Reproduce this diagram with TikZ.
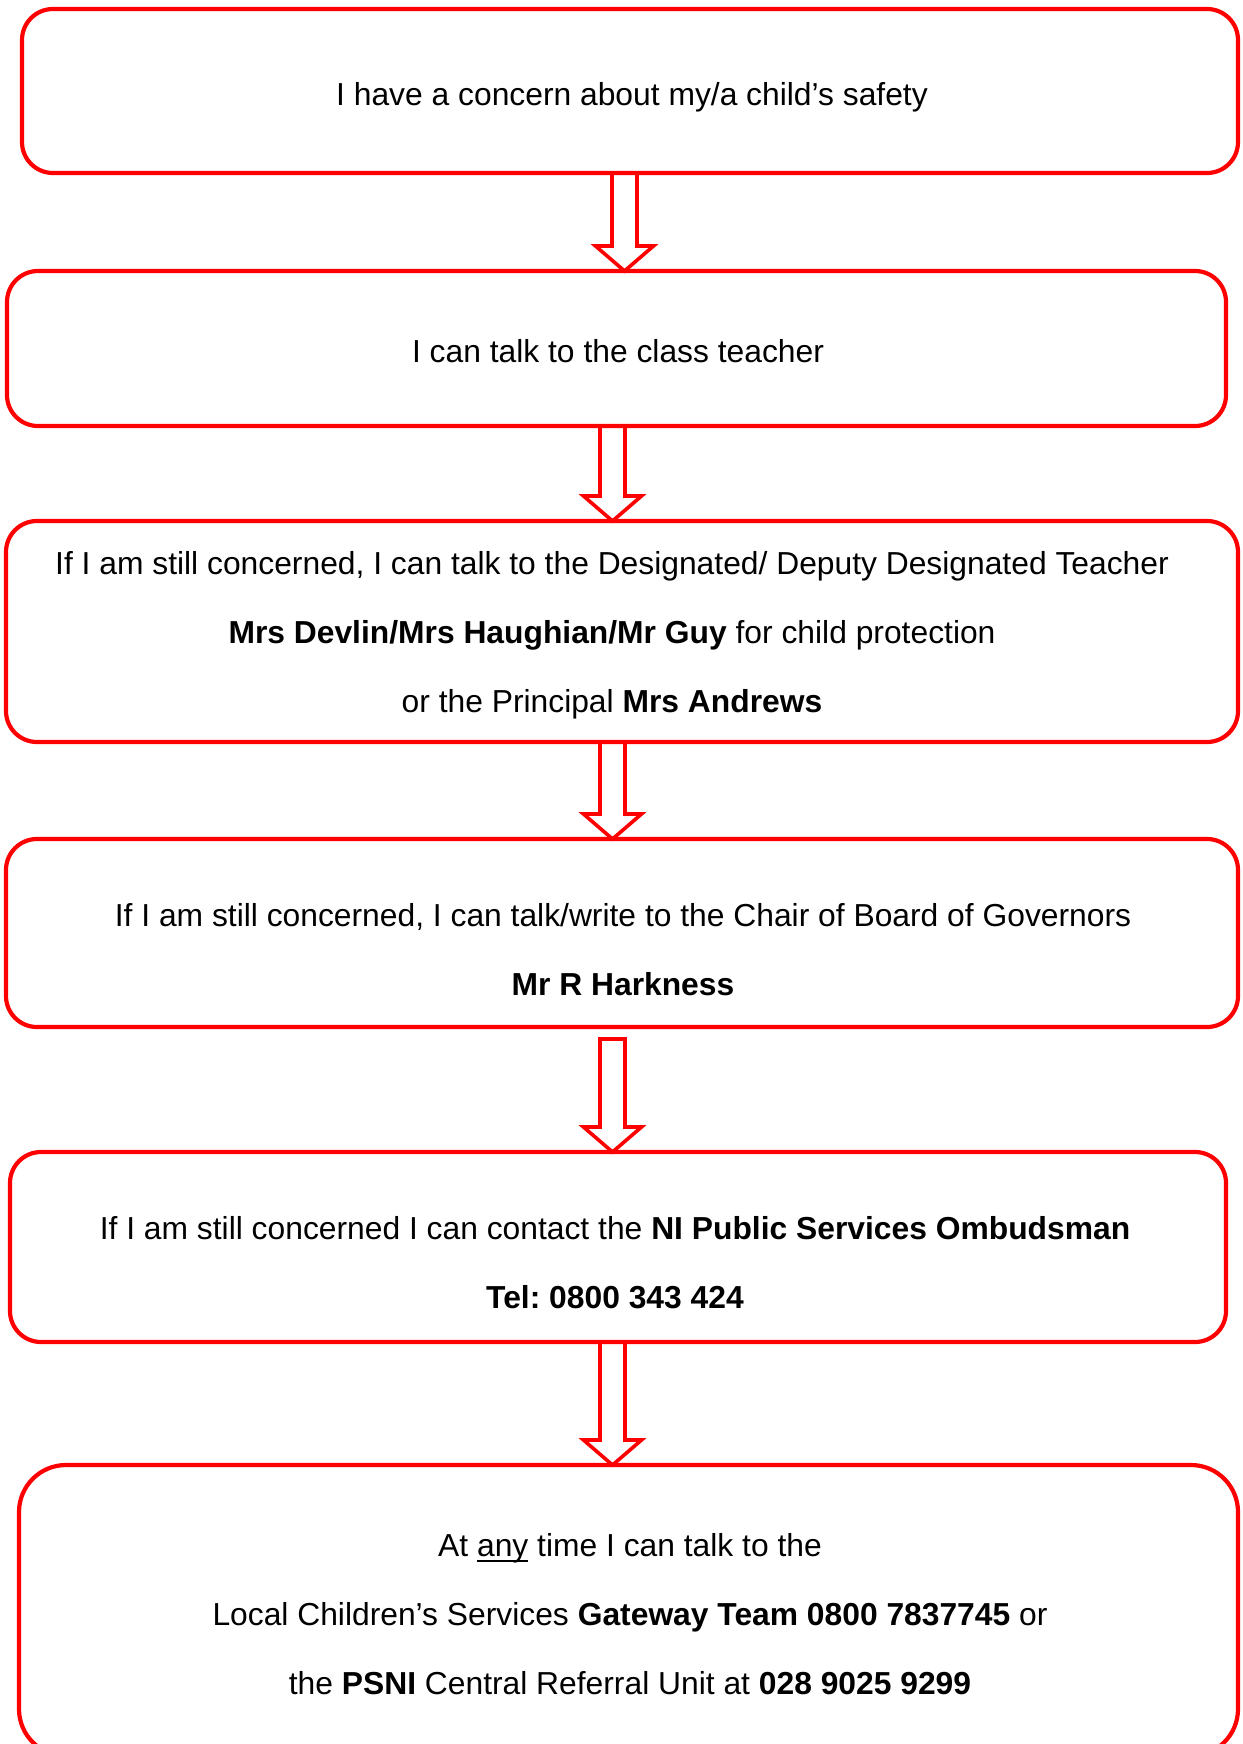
\documentclass[tikz,border=0pt]{standalone}
\usepackage{fontspec}
\setmainfont{Liberation Sans}
\usetikzlibrary{calc}
\definecolor{flowred}{RGB}{255,0,0}
\tikzset{
  flowbox/.style={draw=flowred, line width=4.2pt, rounded corners=31pt, inner sep=0, outer sep=0},
  boxtext/.style={align=center, inner sep=0, text=black, font=\fontsize{31.8}{69}\selectfont\frenchspacing},
  arrowline/.style={draw=flowred, line width=3.6pt}
}
\newcommand{\flowarrow}[4][0]{%
  \draw[arrowline] let \p1=(#2.south), \p2=(#3.north) in
    ({#4-12.5},{\y1-#1}) -- ({#4-12.5},{\y2+25}) -- ({#4-29},{\y2+25})
    -- (#4,\y2) -- ({#4+29},{\y2+25}) -- ({#4+12.5},{\y2+25})
    -- ({#4+12.5},{\y1-#1}) -- cycle;}
\newcommand{\wordunder}[1]{\setbox0\hbox{#1}\rlap{\rule[-5.5pt]{\wd0}{2.5pt}}\box0\relax}

\begin{document}
\begin{tikzpicture}[x=1pt, y=-1pt]
\useasboundingbox[fill=white] (0,0) rectangle (1242,1744);
\node[flowbox, minimum width=1216pt, minimum height=164pt] (concern) at (630,91) {};
\node[flowbox, minimum width=1219pt, minimum height=155pt] (teacher) at (616.5,348.5) {};
\node[flowbox, minimum width=1232pt, minimum height=221pt] (designated) at (622,631.5) {};
\node[flowbox, minimum width=1232pt, minimum height=188pt] (chair) at (622,933) {};
\node[flowbox, minimum width=1216pt, minimum height=190pt] (ombudsman) at (618,1247) {};
\node[flowbox, rounded corners=47pt, minimum width=1219pt, minimum height=291pt] (gateway) at (628.5,1610.5) {};

\node[boxtext] (concernlbl) at (632,96.8) {I have a concern about my/a child’s safety};
\node[boxtext] (teacherlbl) at (618,351.5) {I can talk to the class teacher};
\node[boxtext] (designatedlbl) at (612,634.8) {If I am still concerned, I can talk to the Designated/ Deputy Designated Teacher\\
  \textbf{Mrs Devlin/Mrs Haughian/Mr Guy} for child protection\\
  or the Principal \textbf{Mrs Andrews}};
\node[boxtext] (chairlbl) at (623,949.5) {If I am still concerned, I can talk/write to the Chair of Board of Governors\\
  \textbf{Mr R Harkness}};
\node[boxtext] (ombudsmanlbl) at (615,1262.5) {If I am still concerned I can contact the \textbf{NI Public Services Ombudsman}\\
  \textbf{Tel: 0800 343 424}};
\node[boxtext] (gatewaylbl) at (630,1614.5) {At \wordunder{any} time I can talk to the\\
  Local Children’s Services \textbf{Gateway Team 0800 7837745} or\\
  the \textbf{PSNI} Central Referral Unit at \textbf{028 9025 9299}};

\foreach \from/\to/\ax/\gap in {concern/teacher/624.5/0, teacher/designated/612.5/0,
    designated/chair/612.5/0, chair/ombudsman/612.5/12, ombudsman/gateway/612.5/0}
  \flowarrow[\gap]{\from}{\to}{\ax};
\end{tikzpicture}
\end{document}
